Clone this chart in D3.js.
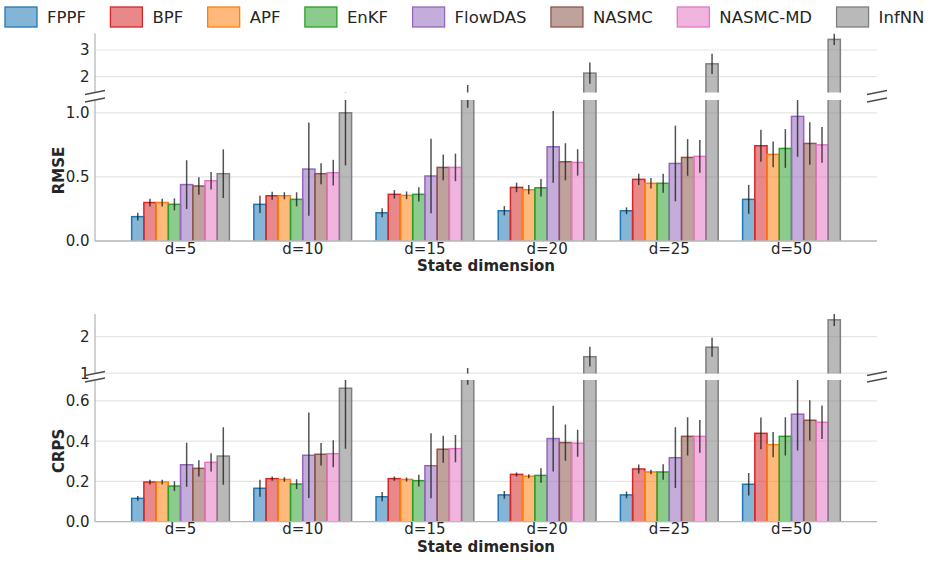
<!DOCTYPE html>
<html>
<head>
<meta charset="utf-8">
<script src="https://cdn.jsdelivr.net/npm/d3@7"></script>
<style>
  body { margin: 0; background: #fff; }
  svg { font-family: "DejaVu Sans", sans-serif; }
</style>
</head>
<body>
<svg class="chart" width="928" height="582"></svg>
<script>
// categories
const dims = ["d=5", "d=10", "d=15", "d=20", "d=25", "d=50"]
const methods = ["FPPF", "BPF", "APF", "EnKF", "FlowDAS", "NASMC", "NASMC-MD", "InfNN"]
const colors = ["#1f77b4", "#d62728", "#ff7f0e", "#2ca02c", "#9467bd", "#8c564b", "#e377c2", "#7f7f7f"]

// RMSE mean / std, one row per method, one column per dim
const rmseMean = [
    [0.19, 0.286, 0.22, 0.236, 0.236, 0.325],
    [0.30, 0.353, 0.364, 0.418, 0.481, 0.743],
    [0.30, 0.353, 0.356, 0.40, 0.45, 0.676],
    [0.286, 0.325, 0.364, 0.415, 0.45, 0.722],
    [0.44, 0.561, 0.507, 0.735, 0.605, 0.972],
    [0.429, 0.525, 0.574, 0.618, 0.652, 0.761],
    [0.47, 0.533, 0.574, 0.613, 0.66, 0.75],
    [0.525, 1.0, 1.36, 2.13, 2.48, 3.40]
]
const rmseStd = [
    [0.03, 0.067, 0.035, 0.036, 0.026, 0.113],
    [0.03, 0.031, 0.033, 0.037, 0.044, 0.124],
    [0.03, 0.028, 0.03, 0.036, 0.041, 0.1],
    [0.047, 0.055, 0.055, 0.068, 0.074, 0.151],
    [0.19, 0.364, 0.29, 0.28, 0.295, 0.315],
    [0.068, 0.082, 0.1, 0.145, 0.143, 0.166],
    [0.068, 0.1, 0.107, 0.103, 0.127, 0.14],
    [0.19, 0.41, 0.32, 0.40, 0.38, 0.21]
]
// CRPS mean / std
const crpsMean = [
    [0.116, 0.166, 0.124, 0.133, 0.133, 0.186],
    [0.197, 0.214, 0.214, 0.235, 0.262, 0.439],
    [0.197, 0.21, 0.21, 0.226, 0.247, 0.383],
    [0.177, 0.187, 0.204, 0.23, 0.247, 0.424],
    [0.283, 0.33, 0.278, 0.413, 0.318, 0.534],
    [0.265, 0.335, 0.36, 0.393, 0.424, 0.504],
    [0.295, 0.338, 0.363, 0.39, 0.424, 0.494],
    [0.326, 0.663, 0.91, 1.45, 1.71, 2.46]
]
const crpsStd = [
    [0.012, 0.042, 0.023, 0.019, 0.017, 0.056],
    [0.012, 0.011, 0.011, 0.01, 0.022, 0.079],
    [0.012, 0.011, 0.01, 0.01, 0.011, 0.063],
    [0.024, 0.024, 0.029, 0.036, 0.039, 0.095],
    [0.109, 0.212, 0.162, 0.163, 0.151, 0.18],
    [0.04, 0.056, 0.067, 0.09, 0.095, 0.1],
    [0.045, 0.067, 0.068, 0.067, 0.081, 0.083],
    [0.143, 0.3, 0.23, 0.27, 0.26, 0.17]
]

// tick values
const rmseUpperTicks = [2, 3]
const rmseLowerTicks = [0, 0.5, 1.0]
const crpsUpperTicks = [1, 2]
const crpsLowerTicks = [0, 0.2, 0.4, 0.6]

const svg = d3.select(".chart")
const textColor = "#262626"
const left = 95, right = 877

const x = d3.scaleLinear()
    .domain([-0.7, dims.length - 0.3])
    .range([left, right])
const barW = 0.1

// each panel = broken y axis, upper and lower segment
const panels = [
    {
        label: "RMSE", mean: rmseMean, std: rmseStd,
        segs: [
            { domain: [1.4, 3.63], range: [92.5, 33.3], ticks: rmseUpperTicks, fmt: d3.format("d") },
            { domain: [0, 1.1], range: [241, 100], ticks: rmseLowerTicks, fmt: d3.format(".1f") }
        ]
    },
    {
        label: "CRPS", mean: crpsMean, std: crpsStd,
        segs: [
            { domain: [0.99, 2.62], range: [373.5, 314], ticks: crpsUpperTicks, fmt: d3.format("d") },
            { domain: [0, 0.704], range: [521.7, 380], ticks: crpsLowerTicks, fmt: d3.format(".1f") }
        ]
    }
]

panels.forEach((p, pi) => {
    const g = svg.append("g").attr("class", "panel-" + p.label)

    p.segs.forEach((s, si) => {
        const y = d3.scaleLinear().domain(s.domain).range(s.range)
        const clipId = `clip-${pi}-${si}`
        svg.append("clipPath").attr("id", clipId)
            .append("rect")
            .attr("x", left).attr("width", right - left)
            .attr("y", s.range[1]).attr("height", s.range[0] - s.range[1])

        // grid
        g.append("g")
            .selectAll("line")
            .data(s.ticks)
            .join("line")
            .attr("x1", left).attr("x2", right)
            .attr("y1", d => y(d)).attr("y2", d => y(d))
            .attr("stroke", "#e5e5e5")
            .attr("stroke-width", 1.2)

        // tick labels
        g.append("g")
            .selectAll("text")
            .data(s.ticks)
            .join("text")
            .attr("x", left - 5.5)
            .attr("y", d => y(d))
            .attr("dy", "0.36em")
            .attr("text-anchor", "end")
            .attr("font-size", 15)
            .attr("fill", textColor)
            .text(d => s.fmt(d))

        const body = g.append("g").attr("clip-path", `url(#${clipId})`)

        // bars + error bars
        methods.forEach((m, mi) => {
            const rows = dims.map((d, di) => ({
                pos: di + (mi - (methods.length - 1) / 2) * barW,
                mean: p.mean[mi][di],
                std: p.std[mi][di]
            }))
            body.append("g")
                .selectAll("rect")
                .data(rows.filter(r => r.mean > s.domain[0]))
                .join("rect")
                .attr("x", r => x(r.pos - barW / 2))
                .attr("width", x(barW) - x(0))
                .attr("y", r => y(r.mean))
                .attr("height", r => s.range[0] + 2 - y(r.mean))
                .attr("fill", colors[mi])
                .attr("fill-opacity", 0.55)
                .attr("stroke", colors[mi])
                .attr("stroke-width", 1.5)

            body.append("g")
                .selectAll("line")
                .data(rows)
                .join("line")
                .attr("x1", r => x(r.pos)).attr("x2", r => x(r.pos))
                .attr("y1", r => y(r.mean - r.std))
                .attr("y2", r => y(r.mean + r.std))
                .attr("stroke", "#1a1a1a")
                .attr("stroke-opacity", 0.75)
                .attr("stroke-width", 1.5)
        })

        // left spine
        g.append("line")
            .attr("x1", left).attr("x2", left)
            .attr("y1", s.range[0]).attr("y2", s.range[1])
            .attr("stroke", "#b8b8b8")
            .attr("stroke-width", 1.3)
    })

    const lower = p.segs[1], upper = p.segs[0]
    // bottom spine
    g.append("line")
        .attr("x1", left).attr("x2", right)
        .attr("y1", lower.range[0]).attr("y2", lower.range[0])
        .attr("stroke", "#b8b8b8")
        .attr("stroke-width", 1.3)

    // break marks
    const marks = []
    ;[left, right].forEach(bx => {
        marks.push({ cx: bx, cy: upper.range[0] })
        marks.push({ cx: bx, cy: lower.range[1] })
    })
    g.append("g")
        .selectAll("line")
        .data(marks)
        .join("line")
        .attr("x1", d => d.cx - 10).attr("y1", d => d.cy + 2)
        .attr("x2", d => d.cx + 10).attr("y2", d => d.cy - 2)
        .attr("stroke", "#4d4d4d")
        .attr("stroke-width", 1.3)

    // x tick labels
    g.append("g")
        .selectAll("text")
        .data(dims)
        .join("text")
        .attr("x", (d, i) => x(i))
        .attr("y", lower.range[0] + 12.5)
        .attr("text-anchor", "middle")
        .attr("font-size", 15)
        .attr("fill", textColor)
        .text(d => d)

    g.append("text")
        .attr("x", (left + right) / 2)
        .attr("y", lower.range[0] + 30)
        .attr("text-anchor", "middle")
        .attr("font-size", 15)
        .attr("font-weight", "bold")
        .attr("fill", textColor)
        .text("State dimension")

    g.append("text")
        .attr("transform", `translate(64, ${(lower.range[0] + lower.range[1]) / 2}) rotate(-90)`)
        .attr("text-anchor", "middle")
        .attr("font-size", 15)
        .attr("font-weight", "bold")
        .attr("fill", textColor)
        .text(p.label)
})

// legend, flowing left to right
const legend = svg.append("g").attr("class", "legend")
let lx = 5
methods.forEach((m, mi) => {
    const item = legend.append("g")
    item.append("rect")
        .attr("x", lx).attr("y", 7)
        .attr("width", 32).attr("height", 20)
        .attr("fill", colors[mi])
        .attr("fill-opacity", 0.55)
        .attr("stroke", colors[mi])
        .attr("stroke-width", 1.3)
    const t = item.append("text")
        .attr("x", lx + 42).attr("y", 17)
        .attr("dy", "0.36em")
        .attr("font-size", 16.5)
        .attr("fill", textColor)
        .text(m)
    lx += 42 + t.node().getComputedTextLength() + 24.5
})

// caption, mostly below the visible area
svg.append("text")
    .attr("x", 437).attr("y", 596)
    .attr("text-anchor", "middle")
    .attr("font-size", 17)
    .attr("fill", textColor)
    .text("(a)")
</script>
</body>
</html>
